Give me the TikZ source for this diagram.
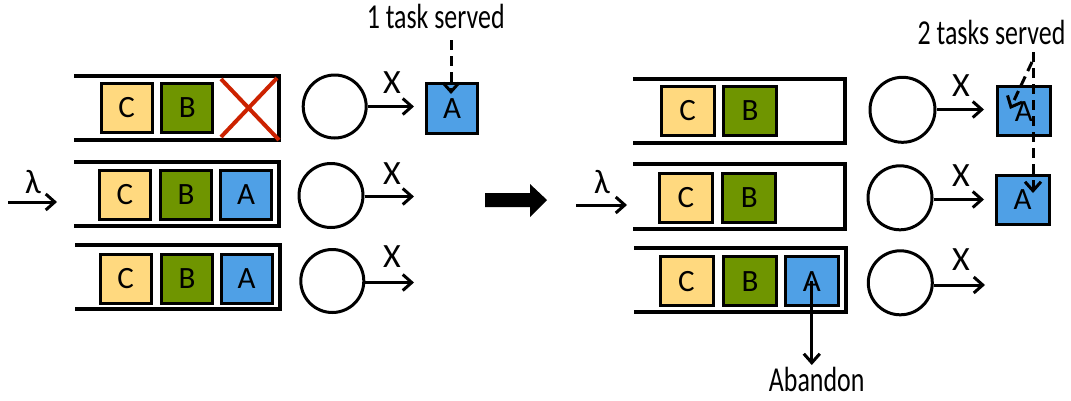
\documentclass[tikz,border=0pt]{standalone}
\usepackage{fontspec}
\setmainfont{Carlito}
\newfontfamily\labfont[FakeStretch=0.74]{Carlito}
\usetikzlibrary{arrows.meta}
\definecolor{cyel}{HTML}{FFD97F}
\definecolor{cgrn}{HTML}{6F9500}
\definecolor{cblu}{HTML}{4FA0E6}
\definecolor{cred}{HTML}{CC2200}
\tikzset{
  task/.style={draw, line width=3pt, minimum width=51pt, minimum height=49pt, inner sep=0pt, font=\fontsize{31}{33}\selectfont},
  ty/.style={task, fill=cyel},
  tg/.style={task, fill=cgrn},
  tb/.style={task, fill=cblu},
  queue/.style={line width=3.5pt},
  server/.style={draw, circle, line width=3pt, inner sep=0pt},
  arr/.style={line width=3pt, -{Straight Barb[length=9pt,width=16pt]}},
  darr/.style={arr, dash pattern=on 10pt off 6pt},
  lab/.style={font=\labfont\fontsize{35}{37}\selectfont, inner sep=0pt},
  xlab/.style={font=\fontsize{34}{36}\selectfont, inner sep=0pt},
}
\begin{document}
\begin{tikzpicture}[x=1pt,y=-1pt]
\useasboundingbox (0,0) rectangle (1071,400);
% ---------------- left state ----------------
\draw[queue] (74,76) -- (279,76) -- (279,140) -- (74,140);
\draw[queue] (74,162) -- (279,162) -- (279,226) -- (74,226);
\draw[queue] (75,245) -- (280,245) -- (280,309) -- (75,309);
\node[ty] (l1c) at (126.7,107.7) {C};
\node[tg] (l1b) at (187.2,107.7) {B};
\draw[cred, line width=4pt] (221,79) -- (279,140) (221,137) -- (277,78);
\node[ty] (l2c) at (125,195) {C};
\node[tg] (l2b) at (186,195) {B};
\node[tb] (l2a) at (246,195) {A};
\node[ty] (l3c) at (125.7,278.7) {C};
\node[tg] (l3b) at (187,278.7) {B};
\node[tb] (l3a) at (246.7,278.7) {A};
\node[server, minimum size=63pt] (ls1) at (334.7,106.5) {};
\node[server, minimum size=64pt] (ls2) at (331,195.5) {};
\node[server, minimum size=63pt] (ls3) at (332.3,281) {};
\coordinate (le1) at (414,106.5);
\coordinate (le2) at (414,196.5);
\coordinate (le3) at (414,282.5);
\draw[arr] (ls1.east) -- (le1);
\draw[arr] (ls2.east |- le2) -- (le2);
\draw[arr] (ls3.east |- le3) -- (le3);
\node[xlab] (lx1) at (392,83) {X};
\node[xlab] (lx2) at (392,174) {X};
\node[xlab] (lx3) at (392,257) {X};
\node[tb, minimum height=50pt] (lsa) at (452,108.3) {A};
\node[lab] (lserved) at (435.7,16) {1 task served};
\coordinate (ld1) at (451,40);
\coordinate (ld2) at (451,94);
\draw[darr] (ld1) -- (ld2);
\node[xlab] (llam) at (33,182) {λ};
\coordinate (lin1) at (8,202);
\coordinate (lin2) at (57,202);
\draw[arr] (lin1) -- (lin2);
% ---------------- big arrow ----------------
\fill[black] (485,193) -- (530,193) -- (530,184) -- (547,200) -- (530,217) -- (530,207) -- (485,207) -- cycle;
% ---------------- right state ----------------
\draw[queue] (633,79) -- (845,79) -- (845,143) -- (633,143);
\draw[queue] (633,164) -- (845,164) -- (845,229) -- (633,229);
\draw[queue] (634,248) -- (846,248) -- (846,312) -- (634,312);
\node[ty, minimum width=53pt] (r1c) at (687.7,110.8) {C};
\node[tg, minimum width=53pt] (r1b) at (750,110.8) {B};
\node[ty, minimum width=53pt] (r2c) at (685.8,197.5) {C};
\node[tg, minimum width=53pt] (r2b) at (749.3,197.5) {B};
\node[ty, minimum width=53pt] (r3c) at (686.5,281.3) {C};
\node[tg, minimum width=53pt] (r3b) at (750,281.3) {B};
\node[tb, minimum width=53pt] (r3a) at (811.8,281.3) {A};
\node[server, minimum size=65pt] (rs1) at (902.5,109.8) {};
\node[server, minimum size=64pt] (rs2) at (900,197.8) {};
\node[server, minimum size=64pt] (rs3) at (900.3,282.8) {};
\coordinate (re1) at (984,109.5);
\coordinate (re2) at (984,199.5);
\coordinate (re3) at (985,285);
\draw[arr] (rs1.east |- re1) -- (re1);
\draw[arr] (rs2.east |- re2) -- (re2);
\draw[arr] (rs3.east |- re3) -- (re3);
\node[xlab] (rx1) at (961,86) {X};
\node[xlab] (rx2) at (961,176) {X};
\node[xlab] (rx3) at (961,260) {X};
\node[tb, minimum width=53pt] (rsa1) at (1023.8,111.3) {A};
\node[tb, minimum width=53pt] (rsa2) at (1022.5,199.7) {A};
\node[lab] (rserved) at (991.5,32) {2 tasks served};
\coordinate (rd1) at (1033,52);
\coordinate (rd2) at (1033,193);
\coordinate (rd3) at (1032,62);
\coordinate (rd4) at (1010,109);
\draw[darr] (rd1) -- (rd2);
\draw[darr] (rd3) -- (rd4);
\node[xlab] (rlam) at (602,182) {λ};
\coordinate (rin1) at (576,205);
\coordinate (rin2) at (627,205);
\draw[arr] (rin1) -- (rin2);
\coordinate (rab) at (811.8,365);
\draw[arr] (r3a.center) -- (rab);
\node[lab] (rabandon) at (816.7,379) {Abandon};
\end{tikzpicture}
\end{document}
